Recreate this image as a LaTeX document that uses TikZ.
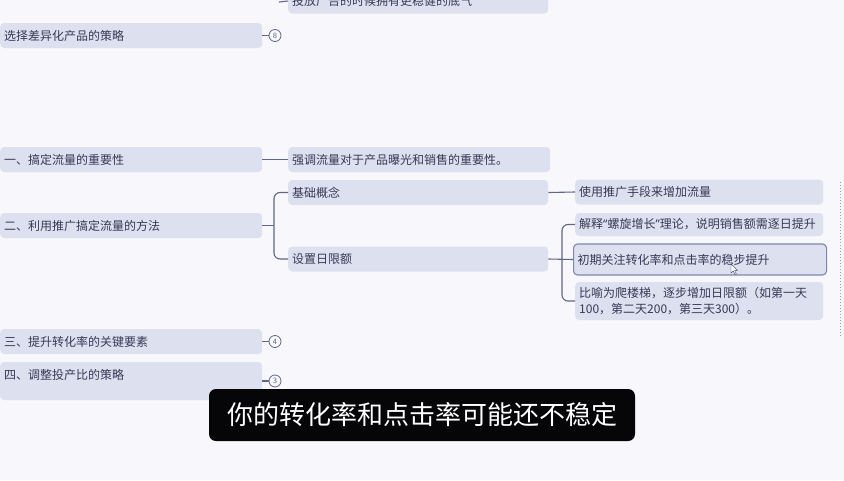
\documentclass[tikz,border=0pt]{standalone}
\usepackage{fontspec}
\newfontfamily\cjk{Noto Sans CJK SC}
\newfontfamily\latinq{Noto Sans}
\definecolor{bgc}{HTML}{F7F7FC}
\definecolor{nodefill}{HTML}{DDE0EE}
\definecolor{txtc}{HTML}{363A56}
\definecolor{linec}{HTML}{5F678A}
\definecolor{selc}{HTML}{7C88AC}
\definecolor{subc}{HTML}{060609}
\tikzset{
  mbox/.style={rounded corners=4pt, fill=nodefill, draw=none, inner xsep=4pt, inner ysep=4pt,
    minimum height=25pt, anchor=west, align=left, text=txtc,
    font=\cjk\fontsize{12}{16}\selectfont},
  selbox/.style={mbox, draw=selc, line width=1.1pt},
  conn/.style={draw=linec, line width=1.1pt},
  circ/.style={circle, draw=linec, line width=0.8pt, fill=bgc, minimum size=12pt, inner sep=0pt,
    text=linec, font=\sffamily\fontsize{8}{8}\selectfont},
  subbox/.style={rounded corners=7pt, fill=subc, text=white, minimum width=426pt, minimum height=52pt,
    inner sep=0pt, font=\cjk\fontsize{26}{30}\selectfont}
}
\begin{document}
\begin{tikzpicture}[x=1pt,y=-1pt]
\useasboundingbox (0,0) rectangle (844,480);
\clip (0,0) rectangle (844,480);
\fill[bgc] (0,0) rectangle (844,480);

% top partially visible node
\coordinate (topin) at (279,2);
\node[mbox, text width=252pt] (top) at (288,1) {投放广告的时候拥有更稳健的底气};
\draw[conn] (topin) -- (top.west);

% left column
\node[mbox, text width=254pt] (n0) at (0,35.5) {选择差异化产品的策略};
\node[circ] (k8) at (275,35.5) {8};
\draw[conn] (n0.east) -- (k8.west);

\node[mbox, text width=254pt] (n1) at (0,159.5) {一、搞定流量的重要性};
\node[mbox, text width=254pt] (n2) at (0,225.5) {二、利用推广搞定流量的方法};
\node[mbox, text width=254pt] (n3) at (0,341.5) {三、提升转化率的关键要素};
\node[circ] (k4) at (275,341.5) {4};
\draw[conn] (n3.east) -- (k4.west);
\node[mbox, text width=254pt, minimum height=38pt, text height=13pt, text depth=17pt] (n4) at (0,381) {四、调整投产比的策略};
\node[circ] (k3) at (275,381) {3};
\draw[conn] (n4.east) -- (k3.west);

% second column
\node[mbox, text width=254pt] (n1r) at (288,159.5) {强调流量对于产品曝光和销售的重要性。};
\draw[conn] (n1.east) -- (n1r.west);

\node[mbox, text width=252pt] (b1) at (288,192.5) {基础概念};
\node[mbox, text width=252pt] (b2) at (288,259) {设置日限额};
\coordinate (j2) at (274,225.5);
\draw[conn] (n2.east) -- (j2);
\draw[conn, rounded corners=6pt] (j2) |- (b1.west);
\draw[conn, rounded corners=6pt] (j2) |- (b2.west);

% third column
\node[mbox, text width=240pt] (r1) at (575,192) {使用推广手段来增加流量};
\draw[conn] (b1.east) -- (r1.west);

\node[mbox, text width=240pt, minimum height=23pt] (c1) at (575,224.5) {解释{\latinq“}螺旋增长{\latinq”}理论，说明销售额需逐日提升};
\node[selbox, text width=245pt, minimum height=31pt] (c2) at (573,259.5) {初期关注转化率和点击率的稳步提升};
\node[mbox, text width=240pt, minimum height=38pt, inner ysep=3pt] (c3) at (575,301) {比喻为爬楼梯，逐步增加日限额（如第一天\\100，第二天200，第三天300）。};
\coordinate (j3) at (562,259.5);
\draw[conn] (b2.east) -- (c2.west);
\draw[conn, rounded corners=6pt] (j3) |- (c1.west);
\draw[conn, rounded corners=6pt] (j3) |- (c3.west);

% mouse pointer
\filldraw[draw=txtc, fill=white, line width=0.4pt] (731,264) -- (731,273) -- (733.2,271) -- (735,274.5) -- (736.3,273.8) -- (734.6,270.5) -- (737.5,270.3) -- cycle;

% right edge partial element
\draw[draw=selc!80, line width=1pt, dotted] (840,182) -- (840,337);

% subtitle
\node[subbox] (sub) at (422,415) {你的转化率和点击率可能还不稳定};
\end{tikzpicture}
\end{document}
